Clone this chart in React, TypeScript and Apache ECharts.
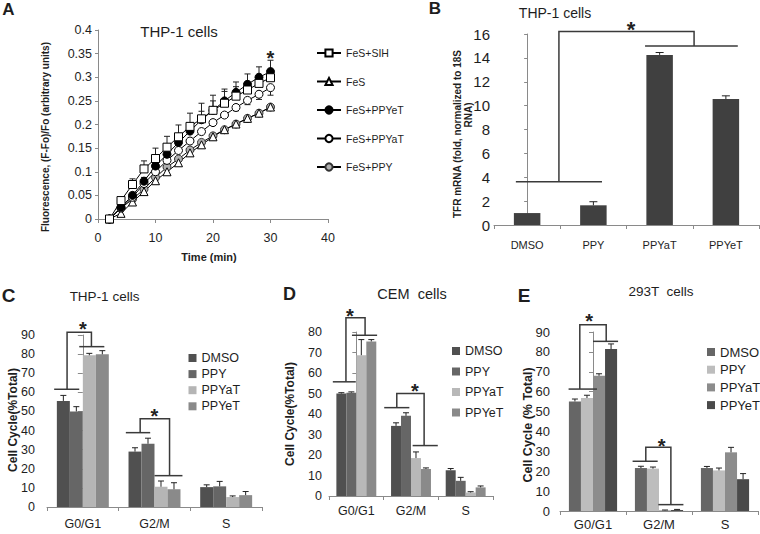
import React, { useEffect, useRef } from "react";
import * as echarts from "echarts";

const FONT = "'Liberation Sans', Arial, Helvetica, sans-serif";
const AXIS_COLOR = "#8a8a8a";
const TEXT_COLOR = "#1e1e1e";
const BRACKET_COLOR = "#3a3a3a";

// ---------------- Panel A : fluorescence kinetics ----------------
const timeMin = [2, 4, 6, 8, 10, 12, 14, 16, 18, 20, 22, 24, 26, 28, 30];
const fesSIH = [0, 0.039, 0.073, 0.106, 0.128, 0.152, 0.174, 0.196, 0.212, 0.23, 0.245, 0.26, 0.273, 0.287, 0.299];
const fesSIHErr = [0, 0.004, 0.012, 0.017, 0.022, 0.023, 0.025, 0.028, 0.033, 0.032, 0.03, 0.02, 0.016, 0.014, 0.012];
const fesOnly = [0, 0.012, 0.036, 0.058, 0.081, 0.1, 0.119, 0.14, 0.157, 0.174, 0.189, 0.201, 0.213, 0.224, 0.237];
const fesPPYeT = [0, 0.025, 0.05, 0.08, 0.112, 0.137, 0.162, 0.186, 0.21, 0.23, 0.25, 0.268, 0.285, 0.3, 0.312];
const fesPPYeTErr = [0, 0.003, 0.005, 0.008, 0.01, 0.012, 0.014, 0.016, 0.018, 0.02, 0.02, 0.022, 0.022, 0.022, 0.024];
const fesPPYaT = [0, 0.023, 0.046, 0.075, 0.1, 0.124, 0.145, 0.165, 0.185, 0.204, 0.22, 0.236, 0.251, 0.264, 0.278];
const fesPPYaTErr = [0, 0, 0, 0, 0, 0, 0, 0, 0, 0, -0.005, -0.007, -0.009, -0.011, -0.016];
const fesPPY = [0, 0.023, 0.042, 0.063, 0.088, 0.11, 0.127, 0.146, 0.162, 0.176, 0.189, 0.201, 0.213, 0.224, 0.237];
const aLegendNames = ["FeS+SIH", "FeS", "FeS+PPYeT", "FeS+PPYaT", "FeS+PPY"];
const aStar = [30, 0.351];

// ---------------- Panel B : TFR mRNA ----------------
const bCategories = ["DMSO", "PPY", "PPYaT", "PPYeT"];
const bValues = [1.0, 1.65, 14.25, 10.55];
const bErrors = [0, 0.3, 0.2, 0.27];
// [leftX1, leftX2, leftY, rightX1, rightX2, rightY, connXa, connXb, connTop, starX, starY]
const bBrackets = [[-0.17, 1.13, 3.63, 1.78, 3.18, 15.0, 0.48, 2.52, 16.2, 1.57, 16.8]];

// ---------------- Panels C, D, E : cell cycle ----------------
const phases = ["G0/G1", "G2/M", "S"];
const treatments = ["DMSO", "PPY", "PPYaT", "PPYeT"];

const cDMSO = [55.5, 29.0, 10.4];
const cPPY = [50.0, 33.1, 10.8];
const cPPYaT = [79.4, 10.6, 5.2];
const cPPYeT = [79.9, 9.3, 6.2];
const cDMSOErr = [2.9, 2.0, 1.2];
const cPPYErr = [2.5, 2.9, 2.6];
const cPPYaTErr = [1.0, 3.0, 0.6];
const cPPYeTErr = [1.9, 3.4, 1.9];
const cBrackets = [
  [-0.4, -0.05, 61.6, -0.05, 0.3, 83.9, -0.22, 0.12, 91.4, 0.0, 95.2],
  [0.6, 0.94, 38.9, 1.0, 1.39, 16.4, 0.8, 1.21, 46.2, 1.0, 49.9],
];

const dDMSO = [50.0, 34.2, 12.6];
const dPPY = [50.4, 39.1, 7.4];
const dPPYaT = [68.7, 18.5, 1.7];
const dPPYeT = [75.4, 13.2, 4.2];
const dDMSOErr = [0.4, 1.5, 0.8];
const dPPYErr = [0.4, 1.5, 1.7];
const dPPYaTErr = [7.6, 3.0, 0.4];
const dPPYeTErr = [0.9, 0.5, 0.7];
const dBrackets = [
  [-0.43, -0.01, 55.7, -0.08, 0.38, 78.4, -0.19, 0.16, 87.0, -0.12, 90.0],
  [0.51, 0.97, 43.1, 1.03, 1.49, 24.6, 0.74, 1.24, 50.0, 1.07, 53.6],
];

const eDMSO = [55.1, 21.6, 21.6];
const ePPY = [56.8, 21.3, 20.4];
const ePPYaT = [68.0, 0.3, 29.5];
const ePPYeT = [81.4, 0.5, 16.0];
const eDMSOErr = [1.2, 0.9, 0.8];
const ePPYErr = [1.4, 0.8, 1.2];
const ePPYaTErr = [1.0, 0.2, 2.5];
const ePPYeTErr = [2.6, 0.3, 2.8];
const eBrackets = [
  [-0.37, 0.06, 61.3, 0.0, 0.38, 85.3, -0.2, 0.2, 93.7, -0.06, 97.8],
  [0.6, 0.98, 25.0, 0.99, 1.37, 3.2, 0.8, 1.18, 32.0, 1.04, 35.0],
];

const cColors = ["#505050", "#666666", "#b5b5b5", "#8a8a8a"];
const dColors = ["#505050", "#666666", "#b8b8b8", "#8a8a8a"];
const eColors = ["#666666", "#bdbdbd", "#8c8c8c", "#4a4a4a"];

// ---------------- helpers ----------------
function barOffset(i: number, n: number, gap: number) {
  const w = 1 - gap;
  return -w / 2 + (i + 0.5) * (w / n);
}

function errorRenderer(cap: number) {
  return (params: any, api: any) => {
    const x = api.value(0);
    const y = api.value(1);
    const e = api.value(2);
    const p0 = api.coord([x, y]);
    const p1 = api.coord([x, y + e]);
    const st = { stroke: "#222222", lineWidth: 1, fill: "none" };
    return {
      type: "group",
      children: [
        { type: "line", shape: { x1: p0[0], y1: p0[1], x2: p1[0], y2: p1[1] }, style: st },
        { type: "line", shape: { x1: p1[0] - cap, y1: p1[1], x2: p1[0] + cap, y2: p1[1] }, style: st },
      ],
    };
  };
}

function bracketRenderer(list: number[][], starSize: number) {
  return (params: any, api: any) => {
    const b = list[params.dataIndex];
    const P = (x: number, y: number) => api.coord([x, y]);
    const l1 = P(b[0], b[2]);
    const l2 = P(b[1], b[2]);
    const r1 = P(b[3], b[5]);
    const r2 = P(b[4], b[5]);
    const c1 = P(b[6], b[2]);
    const c2 = P(b[6], b[8]);
    const c3 = P(b[7], b[8]);
    const c4 = P(b[7], b[5]);
    const s = P(b[9], b[10]);
    const st = { stroke: BRACKET_COLOR, lineWidth: 1.5, fill: "none" };
    return {
      type: "group",
      children: [
        { type: "line", shape: { x1: l1[0], y1: l1[1], x2: l2[0], y2: l2[1] }, style: st },
        { type: "line", shape: { x1: r1[0], y1: r1[1], x2: r2[0], y2: r2[1] }, style: st },
        { type: "polyline", shape: { points: [c1, c2, c3, c4] }, style: st },
        {
          type: "text",
          x: s[0],
          y: s[1] + starSize * 0.22,
          style: {
            text: "*",
            font: `bold ${starSize}px ${FONT}`,
            fill: "#222222",
            align: "center",
            verticalAlign: "middle",
          },
        },
      ],
    };
  };
}

function axisStyle(fontSize: number, margin: number, tickLen = 4) {
  return {
    axisLine: { show: true, lineStyle: { color: AXIS_COLOR, width: 1 } },
    axisTick: { show: true, length: tickLen, lineStyle: { color: AXIS_COLOR, width: 1 } },
    axisLabel: { color: TEXT_COLOR, fontFamily: FONT, fontSize, margin },
    splitLine: { show: false },
  };
}

function gText(text: string, x: number, y: number, size: number, bold: boolean, rotate = false) {
  return {
    type: "text",
    x,
    y,
    rotation: rotate ? Math.PI / 2 : 0,
    silent: true,
    style: {
      text,
      fill: TEXT_COLOR,
      font: `${bold ? "bold " : ""}${size}px ${FONT}`,
      align: "center",
      verticalAlign: "middle",
    },
  };
}

function cellCyclePanel(
  xCat: number,
  xVal: number,
  yIdx: number,
  vals: number[][],
  errs: number[][],
  colors: string[],
  gap: number,
  cap: number,
  brackets: number[][]
) {
  const series: any[] = [];
  treatments.forEach((t, i) => {
    series.push({
      type: "bar",
      name: t,
      xAxisIndex: xCat,
      yAxisIndex: yIdx,
      data: vals[i],
      barGap: "0%",
      barCategoryGap: `${gap * 100}%`,
      itemStyle: { color: colors[i] },
      silent: true,
    });
  });
  const errData: number[][] = [];
  treatments.forEach((t, i) => {
    phases.forEach((p, j) => {
      if (errs[i][j]) errData.push([j + barOffset(i, treatments.length, gap), vals[i][j], errs[i][j]]);
    });
  });
  series.push({
    type: "custom",
    xAxisIndex: xVal,
    yAxisIndex: yIdx,
    data: errData,
    renderItem: errorRenderer(cap),
    silent: true,
    z: 4,
  });
  series.push({
    type: "custom",
    xAxisIndex: xVal,
    yAxisIndex: yIdx,
    data: brackets.map((b) => [b[9], b[10]]),
    renderItem: bracketRenderer(brackets, 20),
    silent: true,
    clip: false,
    z: 5,
  });
  return series;
}

function buildOption(): any {
  const aSeriesDefs = [
    { name: "FeS+PPY", vals: fesPPY, symbol: "circle", fill: "#b0b0b0", border: "#333333" },
    { name: "FeS", vals: fesOnly, symbol: "triangle", fill: "#ffffff", border: "#000000" },
    { name: "FeS+PPYaT", vals: fesPPYaT, symbol: "circle", fill: "#ffffff", border: "#000000" },
    { name: "FeS+PPYeT", vals: fesPPYeT, symbol: "circle", fill: "#000000", border: "#000000" },
    { name: "FeS+SIH", vals: fesSIH, symbol: "rect", fill: "#ffffff", border: "#000000" },
  ];
  const aSeries = aSeriesDefs.map((d) => ({
    type: "line",
    name: d.name,
    xAxisIndex: 0,
    yAxisIndex: 0,
    data: timeMin.map((t, i) => [t, d.vals[i]]),
    symbol: d.symbol,
    symbolSize: 8,
    showSymbol: true,
    showAllSymbol: true,
    lineStyle: { color: "#000000", width: 1 },
    itemStyle: { color: d.fill, borderColor: d.border, borderWidth: 1 },
    silent: true,
  }));
  const aErr: number[][] = [];
  timeMin.forEach((t, i) => {
    if (fesSIHErr[i]) aErr.push([t, fesSIH[i], fesSIHErr[i]]);
    if (fesPPYeTErr[i]) aErr.push([t, fesPPYeT[i], fesPPYeTErr[i]]);
    if (fesPPYaTErr[i]) aErr.push([t, fesPPYaT[i], fesPPYaTErr[i]]);
  });

  const bErrData: number[][] = [];
  bCategories.forEach((c, i) => {
    if (bErrors[i]) bErrData.push([i, bValues[i], bErrors[i]]);
  });

  const gapC = 0.275;
  const gapD = 0.27;
  const gapE = 0.27;

  const series: any[] = [
    ...aSeries,
    {
      type: "custom",
      xAxisIndex: 0,
      yAxisIndex: 0,
      data: aErr,
      renderItem: errorRenderer(3),
      silent: true,
      z: 1,
    },
    {
      type: "custom",
      xAxisIndex: 0,
      yAxisIndex: 0,
      data: [aStar],
      renderItem: (params: any, api: any) => {
        const p = api.coord([api.value(0), api.value(1)]);
        return {
          type: "text",
          x: p[0],
          y: p[1] + 20 * 0.22,
          style: { text: "*", font: `bold 20px ${FONT}`, fill: "#222222", align: "center", verticalAlign: "middle" },
        };
      },
      silent: true,
      clip: false,
      z: 5,
    },
    {
      type: "bar",
      name: "TFR",
      xAxisIndex: 1,
      yAxisIndex: 1,
      data: bValues,
      barCategoryGap: "60%",
      itemStyle: { color: "#404040" },
      silent: true,
    },
    {
      type: "custom",
      xAxisIndex: 2,
      yAxisIndex: 1,
      data: bErrData,
      renderItem: errorRenderer(4),
      silent: true,
      z: 4,
    },
    {
      type: "custom",
      xAxisIndex: 2,
      yAxisIndex: 1,
      data: bBrackets.map((b) => [b[9], b[10]]),
      renderItem: bracketRenderer(bBrackets, 22),
      silent: true,
      clip: false,
      z: 5,
    },
    ...cellCyclePanel(3, 4, 2, [cDMSO, cPPY, cPPYaT, cPPYeT], [cDMSOErr, cPPYErr, cPPYaTErr, cPPYeTErr], cColors, gapC, 3, cBrackets),
    ...cellCyclePanel(5, 6, 3, [dDMSO, dPPY, dPPYaT, dPPYeT], [dDMSOErr, dPPYErr, dPPYaTErr, dPPYeTErr], dColors, gapD, 3, dBrackets),
    ...cellCyclePanel(7, 8, 4, [eDMSO, ePPY, ePPYaT, ePPYeT], [eDMSOErr, ePPYErr, ePPYaTErr, ePPYeTErr], eColors, gapE, 3, eBrackets),
  ];

  const hiddenVal = (gridIndex: number, n: number) => ({
    type: "value",
    gridIndex,
    min: -0.5,
    max: n - 0.5,
    show: false,
  });

  const legendText = (size: number, lh: number) => ({
    color: TEXT_COLOR,
    fontFamily: FONT,
    fontSize: size,
    lineHeight: lh,
  });

  return {
    animation: false,
    backgroundColor: "#ffffff",
    textStyle: { fontFamily: FONT },
    grid: [
      { left: 98, top: 30, width: 230, height: 189, outerBoundsMode: "none" },
      { left: 494, top: 34, width: 265, height: 191, outerBoundsMode: "none" },
      { left: 47, top: 335, width: 215, height: 172, outerBoundsMode: "none" },
      { left: 329, top: 332, width: 164, height: 164, outerBoundsMode: "none" },
      { left: 560, top: 332, width: 198, height: 179, outerBoundsMode: "none" },
    ],
    xAxis: [
      { type: "value", gridIndex: 0, min: 0, max: 40, interval: 10, ...axisStyle(12.5, 12, 4) },
      { type: "category", gridIndex: 1, data: bCategories, ...axisStyle(11, 14, 4) },
      hiddenVal(1, bCategories.length),
      { type: "category", gridIndex: 2, data: phases, ...axisStyle(12.5, 10, 4) },
      hiddenVal(2, phases.length),
      { type: "category", gridIndex: 3, data: phases, ...axisStyle(12.5, 8, 4) },
      hiddenVal(3, phases.length),
      { type: "category", gridIndex: 4, data: phases, ...axisStyle(13, 7, 4) },
      hiddenVal(4, phases.length),
    ],
    yAxis: [
      { type: "value", gridIndex: 0, min: 0, max: 0.4, interval: 0.05, ...axisStyle(12.5, 6, 3) },
      { type: "value", gridIndex: 1, min: 0, max: 16, interval: 2, ...axisStyle(15, 4, 3) },
      { type: "value", gridIndex: 2, min: 0, max: 90, interval: 10, ...axisStyle(12.5, 12, 5) },
      { type: "value", gridIndex: 3, min: 0, max: 80, interval: 10, ...axisStyle(12.5, 7, 4) },
      { type: "value", gridIndex: 4, min: 0, max: 90, interval: 10, ...axisStyle(13, 10, 4) },
    ],
    legend: [
      {
        orient: "vertical",
        left: 311,
        top: 41.5,
        itemWidth: 24,
        itemHeight: 9,
        itemGap: 15.5,
        selectedMode: false,
        textStyle: legendText(10.5, 13),
        data: aLegendNames,
      },
      {
        orient: "vertical",
        left: 183.5,
        top: 346,
        itemWidth: 8,
        itemHeight: 8,
        itemGap: 2.1,
        icon: "rect",
        selectedMode: false,
        textStyle: legendText(12.5, 14),
        data: treatments.map((t, i) => ({ name: t, itemStyle: { color: cColors[i] } })),
      },
      {
        orient: "vertical",
        left: 447,
        top: 339,
        itemWidth: 8,
        itemHeight: 8,
        itemGap: 6.5,
        icon: "rect",
        selectedMode: false,
        textStyle: legendText(12.5, 14),
        data: treatments.map((t, i) => ({ name: t, itemStyle: { color: dColors[i] } })),
      },
      {
        orient: "vertical",
        left: 702,
        top: 340,
        itemWidth: 8,
        itemHeight: 8,
        itemGap: 3.7,
        icon: "rect",
        selectedMode: false,
        textStyle: legendText(13, 14),
        data: treatments.map((t, i) => ({ name: t, itemStyle: { color: eColors[i] } })),
      },
    ],
    graphic: [
      gText("A", 8.5, 9.5, 17, true),
      gText("B", 435, 8, 17, true),
      gText("C", 8.5, 295.5, 19, true),
      gText("D", 289.5, 293.5, 18, true),
      gText("E", 524, 295, 19, true),
      gText("THP-1 cells", 179, 31.5, 15, false),
      gText("THP-1 cells", 555, 12.5, 14, false),
      gText("THP-1 cells", 104.5, 296, 13.5, false),
      gText("CEM  cells", 412, 294, 14.5, false),
      gText("293T  cells", 661, 291, 13.5, false),
      gText("Fluorescence, (F-Fo)/Fo (arbitrary units)", 45, 137, 10, true, true),
      gText("Time (min)", 209, 257, 11, true),
      gText("TFR mRNA (fold, normalized to 18S", 457, 134, 10, true, true),
      gText("RNA)", 468.5, 115, 10, true, true),
      gText("Cell Cycle(%Total)", 13, 420, 12, true, true),
      gText("Cell Cycle(%Total)", 290, 414, 12, true, true),
      gText("Cell Cycle (% Total)", 528, 425, 12.5, true, true),
    ],
    series,
  };
}

export default function App() {
  const ref = useRef<HTMLDivElement>(null);
  useEffect(() => {
    if (!ref.current) return;
    const chart = echarts.init(ref.current, null, { renderer: "svg" });
    chart.setOption(buildOption());
    return () => {
      chart.dispose();
    };
  }, []);
  return (
    <div
      ref={ref}
      style={{ position: "fixed", left: 0, top: 0, width: 760, height: 534, background: "#ffffff" }}
    />
  );
}
